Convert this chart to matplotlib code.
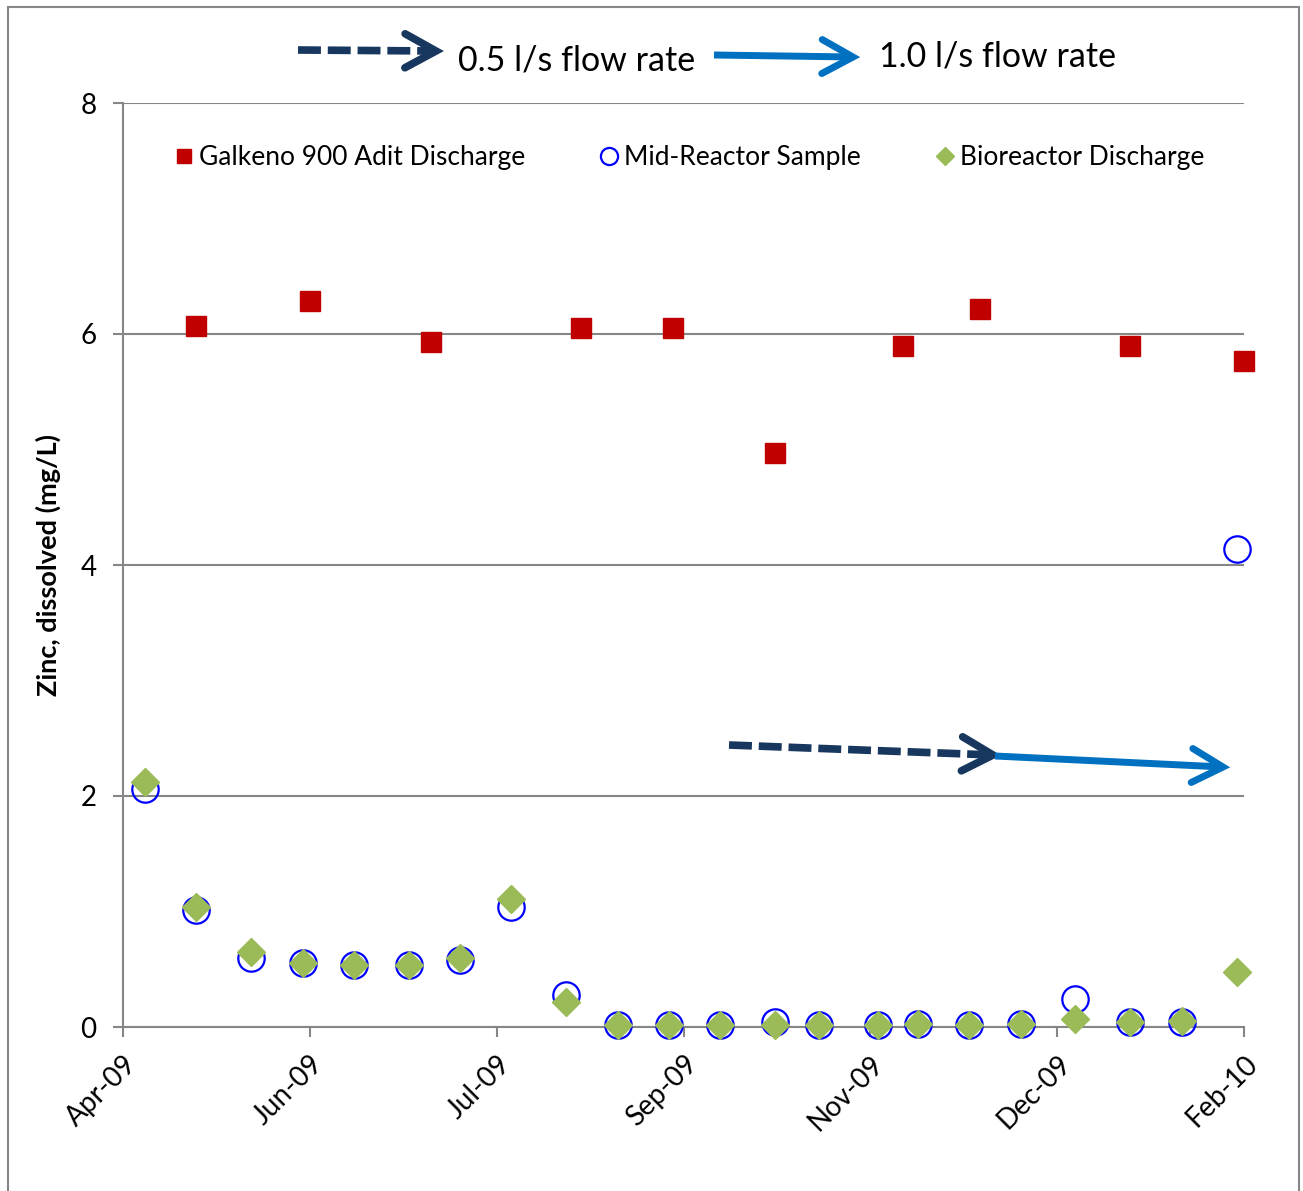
import matplotlib.pyplot as plt
import matplotlib.dates as mdates
import numpy as np
from matplotlib.lines import Line2D
from matplotlib.patches import Rectangle
from datetime import datetime, timedelta

plt.rcParams['font.family'] = ['Lato', 'DejaVu Sans']

# data
adit_dates = ['2009-05-05', '2009-06-05', '2009-07-08', '2009-08-18', '2009-09-12',
              '2009-10-10', '2009-11-14', '2009-12-05', '2010-01-15', '2010-02-15']
adit_zinc = [6.07, 6.29, 5.93, 6.05, 6.05, 4.97, 5.90, 6.22, 5.90, 5.77]

reactor_dates = ['2009-04-21', '2009-05-05', '2009-05-20', '2009-06-03', '2009-06-17',
                 '2009-07-02', '2009-07-16', '2009-07-30', '2009-08-14', '2009-08-28',
                 '2009-09-11', '2009-09-25', '2009-10-10', '2009-10-22', '2009-11-07',
                 '2009-11-18', '2009-12-02', '2009-12-16', '2009-12-31', '2010-01-15',
                 '2010-01-29', '2010-02-13']
mid_zinc = [2.06, 1.01, 0.60, 0.55, 0.54, 0.54, 0.58, 1.04, 0.28, 0.02, 0.02,
            0.02, 0.04, 0.02, 0.02, 0.03, 0.02, 0.03, 0.24, 0.04, 0.04, 4.14]
bio_zinc = [2.12, 1.04, 0.65, 0.55, 0.54, 0.54, 0.60, 1.11, 0.22, 0.02, 0.02,
            0.02, 0.02, 0.02, 0.02, 0.03, 0.02, 0.03, 0.07, 0.04, 0.05, 0.48]

axis_start = datetime(2009, 4, 15)
tick_step_days = 51
n_ticks = 7

to_dt = lambda lst: [datetime.strptime(d, '%Y-%m-%d') for d in lst]

W, H = 1303, 1191
fig = plt.figure(figsize=(W / 100, H / 100), dpi=100)
ax = fig.add_axes([123 / W, 1 - 1027 / H, (1244 - 123) / W, (1027 - 103) / H])

grey = '#868686'
ax.plot(to_dt(adit_dates), adit_zinc, ls='none', marker='s', ms=15, color='#C00000',
        clip_on=False, zorder=3, label='Galkeno 900 Adit Discharge')
ax.plot(to_dt(reactor_dates), mid_zinc, ls='none', marker='o', ms=19, mfc='none',
        mec='#0000FF', mew=1.6, clip_on=False, zorder=3, label='Mid-Reactor Sample')
ax.plot(to_dt(reactor_dates), bio_zinc, ls='none', marker='D', ms=14, color='#9BBB59',
        clip_on=False, zorder=4, label='Bioreactor Discharge')

ticks = [axis_start + timedelta(days=tick_step_days * k) for k in range(n_ticks)]
ax.set_xlim(ticks[0], ticks[-1])
ax.set_xticks(ticks)
ax.xaxis.set_major_formatter(mdates.DateFormatter('%b-%y'))
ax.set_ylim(0, 8)
ax.set_yticks([0, 2, 4, 6, 8])

for s in ['top', 'right']:
    ax.spines[s].set_visible(False)
for s in ['left', 'bottom']:
    ax.spines[s].set_color(grey)
    ax.spines[s].set_linewidth(1.5)
ax.grid(axis='y', color=grey, lw=1.5)
ax.set_axisbelow(True)
ax.tick_params(axis='both', colors=grey, width=1.5, length=7, labelcolor='black', labelsize=20)
ax.tick_params(axis='y', pad=12)
ax.tick_params(axis='x', pad=10)
plt.setp(ax.get_xticklabels(), rotation=45, ha='right', rotation_mode='anchor')

ax.set_ylabel('Zinc, dissolved (mg/L)', fontsize=19.5, fontweight='bold', labelpad=14)

ax.legend(loc='upper center', bbox_to_anchor=(0.506, 0.98), ncol=3, frameon=False,
          fontsize=19, markerscale=0.65, handlelength=0.6, handletextpad=0.25,
          columnspacing=2.9)

# flow-rate arrows (figure pixels, origin top-left)
def fig_xy(x, y):
    return x / W, 1 - y / H

def arrow(x0, y0, x1, y1, color, dashed, lw):
    xs, ys = zip(fig_xy(x0, y0), fig_xy(x1, y1))
    fig.add_artist(Line2D(xs, ys, color=color, lw=lw, ls=(0, (3.0, 0.9)) if dashed else '-',
                          solid_capstyle='butt', dash_capstyle='butt'))
    d = np.array([x1 - x0, y1 - y0], float)
    d /= np.hypot(*d)
    n = np.array([-d[1], d[0]])
    tip = np.array([x1, y1])
    a = tip - 31 * d + 17 * n
    b = tip - 31 * d - 17 * n
    pts = [fig_xy(*a), fig_xy(*tip), fig_xy(*b)]
    fig.add_artist(Line2D([p[0] for p in pts], [p[1] for p in pts], color=color, lw=lw,
                          solid_capstyle='round', solid_joinstyle='miter'))

navy, blue = '#17375E', '#0070C0'
arrow(298, 50, 436, 51, navy, True, 5.5)
arrow(714, 55, 853, 57, blue, False, 5)
arrow(729, 745, 993, 755, navy, True, 5.5)
arrow(995, 756, 1223, 767, blue, False, 5)
fig.text(458 / W, 1 - 60 / H, '0.5 l/s flow rate', fontsize=24.5, va='center')
fig.text(879 / W, 1 - 56 / H, '1.0 l/s flow rate', fontsize=24.5, va='center')

fig.add_artist(Rectangle((8 / W, -0.02), (1299 - 8) / W, 1.02 - 7 / H,
                         transform=fig.transFigure, fill=False, ec=grey, lw=1.5))

fig.savefig('out.png', dpi=100)
